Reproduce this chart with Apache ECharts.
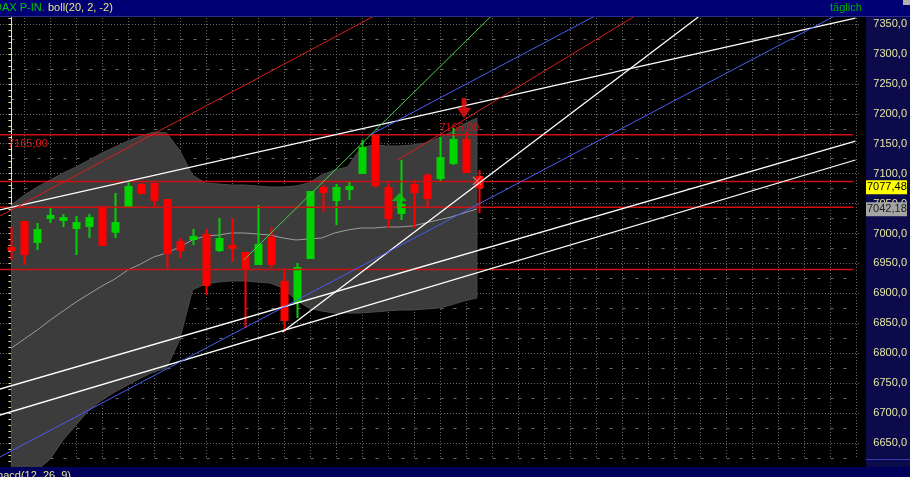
<!DOCTYPE html>
<html><head><meta charset="utf-8">
<script src="https://cdn.jsdelivr.net/npm/echarts@6/dist/echarts.min.js"></script>
<style>html,body{margin:0;padding:0;background:#000;}#c{width:910px;height:477px;}</style>
</head><body><div id="c"></div>
<script>
// ---- data ----
const opens  = [6975.8,7019.2,6985.8,7025.9,7022.6,7009.2,7012.5,7044.3,7002.8,7044.3,7081.0,7082.7,7056.0,6985.8,6990.8,6997.5,6972.5,6979.1,6967.4,6949.1,6992.5,6919.0,6885.6,6959.1,7076.0,7056.0,7074.4,7101.1,7164.6,7076.0,7034.3,7081.0,7096.1,7092.7,7117.8,7156.2,7094.4];
const closes = [6972.5,6965.8,7005.9,7029.2,7025.9,7017.5,7025.9,6980.8,7017.5,7077.7,7067.7,7056.0,6967.4,6972.5,6994.2,6914.0,6990.8,6975.8,6942.4,6980.8,6949.1,6855.5,6942.4,7069.4,7069.4,7076.0,7077.7,7142.8,7081.0,7025.9,7047.6,7069.4,7059.3,7126.2,7156.2,7102.8,7077.48];
const lows   = [6955.7,6947.4,6972.5,7017.5,7010.9,6964.1,6992.5,6979.1,6992.5,7042.6,7066.0,7044.3,6942.4,6959.1,6980.8,6897.3,6969.1,6952.5,6842.1,6947.4,6942.4,6835.5,6858.8,6957.4,7035.9,7014.2,7056.0,7099.4,7076.0,7009.2,7022.6,7009.2,7042.6,7087.7,7114.5,7101.1,7034.3];
const highs  = [7010.9,7020.9,7017.5,7042.6,7032.6,7029.2,7032.6,7046.0,7067.7,7086.1,7084.4,7082.7,7057.7,6992.5,7007.5,7007.5,7025.9,7025.9,6969.1,7047.6,7010.9,6942.4,6950.7,7071.0,7081.0,7082.7,7086.1,7156.2,7164.6,7084.4,7122.8,7089.4,7101.1,7161.2,7176.3,7169.6,7106.1];
const bollUpper = [7047.6,7064.3,7077.7,7089.4,7101.1,7111.1,7122.8,7134.5,7144.5,7154.5,7162.9,7169.6,7168.0,7139.5,7097.7,7084.4,7082.7,7081.0,7081.0,7079.4,7077.7,7077.7,7079.4,7084.4,7097.7,7106.1,7111.1,7142.8,7147.9,7146.2,7146.2,7147.9,7151.2,7159.6,7169.6,7182.9,7193.0];
const bollLower = [6571.5,6588.2,6604.9,6623.3,6655.0,6680.1,6705.1,6721.9,6735.2,6746.9,6758.6,6768.6,6775.3,6822.1,6905.6,6915.6,6919.0,6920.7,6920.7,6919.0,6917.3,6909.0,6888.9,6875.5,6870.5,6867.2,6867.2,6867.2,6868.9,6870.5,6872.2,6872.2,6873.9,6875.5,6880.6,6887.3,6892.3];
const bollMid   = [6808.7,6823.8,6838.8,6855.5,6870.5,6885.6,6898.9,6912.3,6924.0,6939.0,6949.1,6960.8,6967.4,6977.5,6989.2,6995.8,6997.5,7000.9,7000.9,6999.2,6997.5,6992.5,6989.2,6990.8,6992.5,7000.9,7005.9,7009.2,7009.2,7010.9,7010.9,7012.5,7017.5,7022.6,7027.6,7034.3,7041.0];
// trend lines: [[barIndex, price], [barIndex, price]]
const whiteLines = [[[-0.885,7039.3],[65.27,7360.0]],[[-0.885,6740.2],[65.27,7154.5]],[[-0.885,6696.8],[65.27,7122.8]],[[20.96,6835.5],[53.12,7361.7]]];
const blueLines  = [[[-0.885,6626.7],[65.27,7381.7]],[[27.73,7164.6],[45.27,7365.0]]];
const greenLines = [[[17.96,6955.7],[37.19,7365.0]]];
const redLines   = [[[-0.885,7029.2],[28.19,7365.0]],[[29.88,7122.8],[48.35,7365.0]]];
const levelPrices = [7165, 7087, 7044, 6940];
const levelSpan = [-0.885, 65.12];
const upArrows = [[30, 7054.3]];
const downArrows = [[35, 7209.7]];
const crossMarks = [[36, 7088]];
const lastPrice = 7077.48;
const refPrice = 7042.18;
const yTicks = [6650,6700,6750,6800,6850,6900,6950,7000,7050,7100,7150,7200,7250,7300,7350];
const slotCount = 66;

// ---- layout ----
const FONT = "'Liberation Sans',Arial,sans-serif";
const PX = 0.5986;          // pixels per point
const Y_TOP_VAL = 7350, Y_TOP_PX = 24;
const yMaxAxis = 7375;
const gridTop = Y_TOP_PX - (yMaxAxis - Y_TOP_VAL) * PX;
const plotRight = 865;

const chart = echarts.init(document.getElementById('c'), null, {renderer: 'canvas'});
const cats = Array.from({length: slotCount}, (_, i) => String(i));
const fmt = v => v.toFixed(2).replace('.', ',');

function seg(pair, color, width, z) {
  return {type: 'line', xAxisIndex: 1, yAxisIndex: 1, data: pair, symbol: 'none', silent: true,
    lineStyle: {color: color, width: width}, z: z, animation: false};
}

const series = [];
series.push({
  type: 'custom', xAxisIndex: 1, yAxisIndex: 1, data: [[0, bollMid[0]]], silent: true, z: 1,
  renderItem: function (params, api) {
    const pts = [];
    bollUpper.forEach((v, i) => pts.push(api.coord([i, v])));
    for (let i = bollLower.length - 1; i >= 0; i--) pts.push(api.coord([i, bollLower[i]]));
    return {type: 'polygon', shape: {points: pts}, style: {fill: '#3c3c3c', stroke: '#4a4a4a', lineWidth: 1}};
  }
});
series.push({type: 'line', xAxisIndex: 1, yAxisIndex: 1, data: bollMid.map((v, i) => [i, v]), symbol: 'none',
  silent: true, lineStyle: {color: '#9c9c9c', width: 1}, z: 2});
series.push({
  type: 'candlestick', xAxisIndex: 0, yAxisIndex: 0, clip: false, silent: true, z: 3, barWidth: 7,
  data: opens.map((o, i) => [o, closes[i], lows[i], highs[i]]),
  itemStyle: {color: '#00d400', color0: '#ff0000', borderColor: '#00d400', borderColor0: '#ff0000', borderWidth: 2}
});
levelPrices.forEach(p => series.push(seg([[levelSpan[0], p], [levelSpan[1], p]], '#d01010', 1.5, 4)));
whiteLines.forEach(l => series.push(seg(l, '#ffffff', 1.3, 5)));
blueLines.forEach(l => series.push(seg(l, '#4a5cf0', 1, 5)));
greenLines.forEach(l => series.push(seg(l, '#48d048', 1, 5)));
redLines.forEach(l => series.push(seg(l, '#d81c1c', 1, 5)));
series.push({type: 'scatter', xAxisIndex: 1, yAxisIndex: 1, data: upArrows, silent: true, z: 6,
  symbol: 'path://M6,0 L12,8 L8,8 L8,16 L4,16 L4,8 L0,8 Z', symbolSize: [15, 16], itemStyle: {color: '#00d400'}});
series.push({type: 'scatter', xAxisIndex: 1, yAxisIndex: 1, data: downArrows, silent: true, z: 6,
  symbol: 'path://M4,0 L8,0 L8,9 L12,9 L6,18 L0,9 L4,9 Z', symbolSize: [14, 20], itemStyle: {color: '#ff1010'}});
series.push({type: 'scatter', xAxisIndex: 1, yAxisIndex: 1, data: crossMarks, silent: true, z: 6,
  symbol: 'path://M0,1 L1,0 L5,4 L9,0 L10,1 L6,5 L10,9 L9,10 L5,6 L1,10 L0,9 L4,5 Z', symbolSize: 9,
  itemStyle: {color: '#ff7a7a'}});

const option = {
  backgroundColor: '#000000',
  animation: false,
  grid: [
    {left: 11.5, width: 13 * (slotCount - 1), top: gridTop, height: (yMaxAxis - 6625) * PX, containLabel: false},
    {left: 0, width: plotRight, top: gridTop, height: (yMaxAxis - 6600) * PX, containLabel: false}
  ],
  xAxis: [
    {type: 'category', gridIndex: 0, data: cats, boundaryGap: false,
      axisLine: {show: false}, axisTick: {show: false}, axisLabel: {show: false},
      splitLine: {show: true, interval: (idx) => idx % 2 === 1, lineStyle: {color: '#6a6a6a', type: [1, 2], width: 1}}},
    {type: 'value', gridIndex: 1, min: -11.5 / 13, max: (plotRight - 11.5) / 13, show: false, splitLine: {show: false}}
  ],
  yAxis: [
    {type: 'value', gridIndex: 0, min: 6625, max: yMaxAxis, interval: 50, position: 'right',
      axisLine: {show: false}, axisTick: {show: false}, axisLabel: {show: false},
      splitLine: {show: true, lineStyle: {color: '#6a6a6a', type: [3, 10], width: 1}}},
    {type: 'value', gridIndex: 1, min: 6600, max: yMaxAxis, interval: 50, position: 'right',
      axisLine: {show: true, lineStyle: {color: '#e4e4a0', width: 1}},
      axisTick: {show: true, inside: true, length: 3, lineStyle: {color: '#e4e4a0'}},
      minorTick: {show: true, splitNumber: 5, length: 3, lineStyle: {color: '#e4e4a0'}},
      axisLabel: {show: true, margin: 13, color: '#e6e6a6', fontSize: 11, fontFamily: FONT,
        width: 37, overflow: 'truncate', ellipsis: '',
        formatter: v => (yTicks.indexOf(v) >= 0 ? fmt(v) : '')},
      splitLine: {show: true, lineStyle: {color: '#6a6a6a', type: [1, 2], width: 1}}}
  ],
  series: series
};
chart.setOption(option);

const yLast = chart.convertToPixel({yAxisIndex: 1}, lastPrice);
const yRef = chart.convertToPixel({yAxisIndex: 1}, refPrice);
const yLvl = chart.convertToPixel({yAxisIndex: 1}, levelPrices[0]);
const xLvlLbl = chart.convertToPixel({xAxisIndex: 1}, 33.1);
const F11 = '11px ' + FONT;

chart.setOption({
  graphic: [
    {type: 'rect', shape: {x: 866, y: 0, width: 44, height: 477}, style: {fill: '#0b0b4c'}, z: -10, silent: true},
    {type: 'line', shape: {x1: 866, y1: 459.5, x2: 910, y2: 459.5}, style: {stroke: '#3a3ab0', lineWidth: 1}, z: 99, silent: true},
    {type: 'rect', shape: {x: 0, y: 0, width: 910, height: 16}, style: {fill: '#000074'}, z: 100, silent: true},
    {type: 'line', shape: {x1: 0, y1: 16.5, x2: 910, y2: 16.5}, style: {stroke: '#2c2c8c', lineWidth: 1}, z: 100, silent: true},
    {type: 'rect', shape: {x: 903, y: 0, width: 7, height: 5}, style: {fill: '#b0b0b0'}, z: 101, silent: true},
    {type: 'text', x: -6, y: 8, style: {text: 'DAX P-IN.', fill: '#00c800', font: F11, verticalAlign: 'middle'}, z: 101, silent: true},
    {type: 'text', x: 48, y: 8, style: {text: 'boll(20, 2, -2)', fill: '#e6e68c', font: F11, verticalAlign: 'middle'}, z: 101, silent: true},
    {type: 'text', x: 830, y: 8, style: {text: 'täglich', fill: '#00b400', font: F11, verticalAlign: 'middle'}, z: 101, silent: true},
    {type: 'rect', shape: {x: 0, y: 467, width: 910, height: 10}, style: {fill: '#00005c'}, z: 100, silent: true},
    {type: 'text', x: -6, y: 470, style: {text: 'macd(12, 26, 9)', fill: '#e6e68c', font: F11, verticalAlign: 'top'}, z: 101, silent: true},
    {type: 'text', x: 8, y: yLvl + 9, style: {text: fmt(levelPrices[0]), fill: '#e01818', font: F11, verticalAlign: 'middle'}, z: 7, silent: true},
    {type: 'text', x: xLvlLbl, y: yLvl - 7, style: {text: fmt(levelPrices[0]), fill: '#d01414', font: F11, verticalAlign: 'middle'}, z: 2, silent: true},
    {type: 'rect', shape: {x: 866, y: yLast - 7, width: 41, height: 14}, style: {fill: '#ffff00'}, z: 102, silent: true},
    {type: 'text', x: 867, y: yLast, style: {text: fmt(lastPrice), fill: '#000000', font: F11, verticalAlign: 'middle'}, z: 103, silent: true},
    {type: 'rect', shape: {x: 866, y: yRef - 6, width: 41, height: 14}, style: {fill: '#a4a4a4'}, z: 102, silent: true},
    {type: 'text', x: 867, y: yRef + 1, style: {text: fmt(refPrice), fill: '#202020', font: F11, verticalAlign: 'middle'}, z: 103, silent: true}
  ]
});
</script></body></html>
